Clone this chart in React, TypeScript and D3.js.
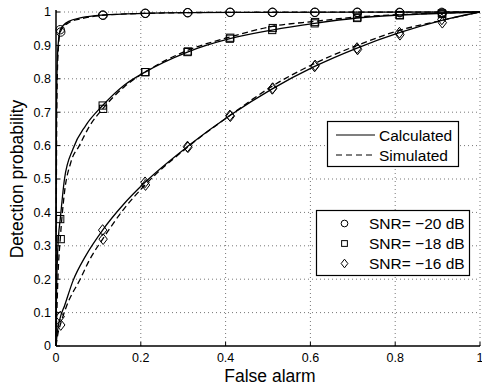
import React from 'react';
import * as d3 from 'd3';

// x positions of the plotted markers
const markerX = [0.01, 0.11, 0.21, 0.31, 0.41, 0.51, 0.61, 0.71, 0.81, 0.91];

// SNR = -20 dB
const calc20: [number, number][] = [
  [0, 0], [0.0005, 0.5], [0.001, 0.68], [0.003, 0.85], [0.006, 0.915], [0.01, 0.947], [0.03, 0.972],
  [0.06, 0.983], [0.11, 0.991], [0.21, 0.996], [0.31, 0.998], [0.51, 0.999], [1, 1],
];
const sim20: [number, number][] = [
  [0, 0], [0.001, 0.5], [0.002, 0.72], [0.005, 0.88], [0.01, 0.94], [0.03, 0.968], [0.06, 0.98],
  [0.11, 0.99], [0.21, 0.996], [0.41, 0.999], [1, 1],
];
const calc20Marks = [0.947, 0.991, 0.996, 0.998, 0.999, 0.999, 0.999, 0.999, 0.999, 0.999];
const sim20Marks = [0.94, 0.99, 0.996, 0.998, 0.999, 0.999, 0.999, 0.999, 0.998, 0.997];

// SNR = -18 dB
const calc18: [number, number][] = [
  [0, 0], [0.001, 0.13], [0.003, 0.25], [0.006, 0.33], [0.01, 0.38], [0.02, 0.5],
  [0.04, 0.59], [0.07, 0.66], [0.11, 0.72], [0.16, 0.78], [0.21, 0.82], [0.31, 0.88],
  [0.41, 0.92], [0.51, 0.946], [0.61, 0.966], [0.71, 0.982], [0.81, 0.991], [0.91, 0.996], [1, 1],
];
const sim18: [number, number][] = [
  [0, 0], [0.002, 0.1], [0.005, 0.22], [0.01, 0.32], [0.02, 0.46], [0.035, 0.55],
  [0.055, 0.6], [0.08, 0.66], [0.11, 0.71], [0.16, 0.775], [0.21, 0.82], [0.31, 0.885],
  [0.41, 0.925], [0.51, 0.957], [0.61, 0.972], [0.71, 0.985], [0.81, 0.992], [0.91, 0.997], [1, 1],
];
const calc18Marks = [0.38, 0.72, 0.82, 0.88, 0.92, 0.946, 0.966, 0.982, 0.991, 0.996];
const sim18Marks = [0.32, 0.71, 0.82, 0.882, 0.923, 0.952, 0.97, 0.984, 0.99, 0.994];

// SNR = -16 dB
const calc16: [number, number][] = [
  [0, 0], [0.003, 0.04], [0.01, 0.085], [0.02, 0.12], [0.04, 0.195], [0.07, 0.27],
  [0.11, 0.347], [0.16, 0.425], [0.21, 0.49], [0.31, 0.597], [0.41, 0.69], [0.51, 0.77],
  [0.61, 0.837], [0.71, 0.892], [0.81, 0.938], [0.91, 0.975], [1, 1],
];
const sim16: [number, number][] = [
  [0, 0], [0.005, 0.04], [0.01, 0.063], [0.025, 0.12], [0.057, 0.2], [0.08, 0.26],
  [0.11, 0.32], [0.16, 0.41], [0.21, 0.482], [0.31, 0.595], [0.41, 0.69], [0.51, 0.778],
  [0.61, 0.846], [0.71, 0.9], [0.81, 0.945], [0.91, 0.975], [1, 1],
];
const calc16Marks = [0.088, 0.347, 0.49, 0.597, 0.69, 0.77, 0.837, 0.892, 0.938, 0.978];
const sim16Marks = [0.063, 0.32, 0.482, 0.595, 0.688, 0.772, 0.84, 0.888, 0.932, 0.968];

const xTicks = [0, 0.2, 0.4, 0.6, 0.8, 1];
const yTicks = [0, 0.1, 0.2, 0.3, 0.4, 0.5, 0.6, 0.7, 0.8, 0.9, 1];
const snrLabels = ['SNR= \u221220 dB', 'SNR= \u221218 dB', 'SNR= \u221216 dB'];

const W = 482;
const H = 387;
const margin = { top: 12, right: 2, bottom: 41, left: 56 };
const font = 'Liberation Sans, Arial, Helvetica, sans-serif';

type Shape = 'circle' | 'square' | 'diamond';

const Marker = ({ x, y, shape, s = 1 }: { x: number; y: number; shape: Shape; s?: number }) => {
  const common = { fill: 'none', stroke: '#000', strokeWidth: 1 };
  if (shape === 'circle') return <circle cx={x} cy={y} r={4.2 * s} {...common} />;
  if (shape === 'square') {
    const h = 3.6 * s;
    return <rect x={x - h} y={y - h} width={2 * h} height={2 * h} {...common} />;
  }
  const w = 4.2 * s;
  const hh = 5.4 * s;
  return <path d={`M${x},${y - hh}L${x + w},${y}L${x},${y + hh}L${x - w},${y}Z`} {...common} />;
};

const App: React.FC = () => {
  const innerW = W - margin.left - margin.right;
  const innerH = H - margin.top - margin.bottom;
  const x = d3.scaleLinear().domain([0, 1]).range([margin.left, margin.left + innerW]);
  const y = d3.scaleLinear().domain([0, 1]).range([margin.top + innerH, margin.top]);
  const line = d3
    .line<[number, number]>()
    .x((d) => x(d[0]))
    .y((d) => y(d[1]))
    .curve(d3.curveMonotoneX);

  const series: { calc: [number, number][]; sim: [number, number][]; cm: number[]; sm: number[]; shape: Shape }[] = [
    { calc: calc20, sim: sim20, cm: calc20Marks, sm: sim20Marks, shape: 'circle' },
    { calc: calc18, sim: sim18, cm: calc18Marks, sm: sim18Marks, shape: 'square' },
    { calc: calc16, sim: sim16, cm: calc16Marks, sm: sim16Marks, shape: 'diamond' },
  ];

  const x0 = x(0);
  const y0 = y(0);

  return (
    <svg width={W} height={H} style={{ position: 'absolute', left: 0, top: 0, background: '#fff' }} fontFamily={font}>
      {/* grid */}
      {xTicks.filter((t) => t > 0).map((t) => (
        <line key={`gx${t}`} x1={x(t)} x2={x(t)} y1={y(0)} y2={y(1)} stroke="#777" strokeWidth={1} strokeDasharray="1,3" />
      ))}
      {yTicks.filter((t) => t > 0).map((t) => (
        <line key={`gy${t}`} x1={x(0)} x2={x(1)} y1={y(t)} y2={y(t)} stroke="#777" strokeWidth={1} strokeDasharray="1,3" />
      ))}

      {/* curves */}
      {series.map((s, i) => (
        <g key={i}>
          <path d={line(s.calc) ?? ''} fill="none" stroke="#000" strokeWidth={1.3} />
          <path d={line(s.sim) ?? ''} fill="none" stroke="#000" strokeWidth={1.3} strokeDasharray="6,3.5" />
          {markerX.map((mx, j) => (
            <Marker key={`c${j}`} x={x(mx)} y={y(s.cm[j])} shape={s.shape} />
          ))}
          {markerX.map((mx, j) => (
            <Marker key={`s${j}`} x={x(mx) + 0.5} y={y(s.sm[j])} shape={s.shape} />
          ))}
        </g>
      ))}

      {/* axes */}
      <line x1={x0} x2={x0} y1={y0} y2={y(1) - 2} stroke="#000" strokeWidth={1.5} />
      <line x1={x0} x2={x(1)} y1={y0} y2={y0} stroke="#000" strokeWidth={1.5} />
      {xTicks.map((t) => (
        <g key={`xt${t}`}>
          <line x1={x(t)} x2={x(t)} y1={y0} y2={y0 - 4} stroke="#000" />
          <text x={x(t)} y={y0 + 16} textAnchor="middle" fontSize={12.5}>
            {t}
          </text>
        </g>
      ))}
      {yTicks.map((t) => (
        <g key={`yt${t}`}>
          <line x1={x0} x2={x0 + 4} y1={y(t)} y2={y(t)} stroke="#000" />
          <text x={x0 - 5} y={y(t) + 4.3} textAnchor="end" fontSize={12.5}>
            {t}
          </text>
        </g>
      ))}
      <text x={270} y={382} textAnchor="middle" fontSize={17.5}>
        False alarm
      </text>
      <text transform={`translate(23,${(y(0) + y(1)) / 2}) rotate(-90)`} textAnchor="middle" fontSize={17.5}>
        Detection probability
      </text>

      {/* line style legend */}
      <g>
        <rect x={327.5} y={121.5} width={131} height={45} fill="#fff" stroke="#000" strokeWidth={1.2} />
        <line x1={336} x2={375} y1={135} y2={135} stroke="#000" strokeWidth={1.1} />
        <line x1={336} x2={375} y1={155} y2={155} stroke="#000" strokeWidth={1.1} strokeDasharray="6,4" />
        <text x={379} y={140.5} fontSize={15.5}>Calculated</text>
        <text x={379} y={160.5} fontSize={15.5}>Simulated</text>
      </g>

      {/* marker legend */}
      <g>
        <rect x={316.5} y={210.5} width={153} height={65} fill="#fff" stroke="#000" strokeWidth={1.2} />
        {series.map((s, i) => (
          <g key={`lg${i}`}>
            <Marker x={344.5} y={223.5 + i * 20} shape={s.shape} s={0.8} />
            <text x={369} y={229 + i * 20} fontSize={15.5}>
              {snrLabels[i]}
            </text>
          </g>
        ))}
      </g>
    </svg>
  );
};

export default App;
